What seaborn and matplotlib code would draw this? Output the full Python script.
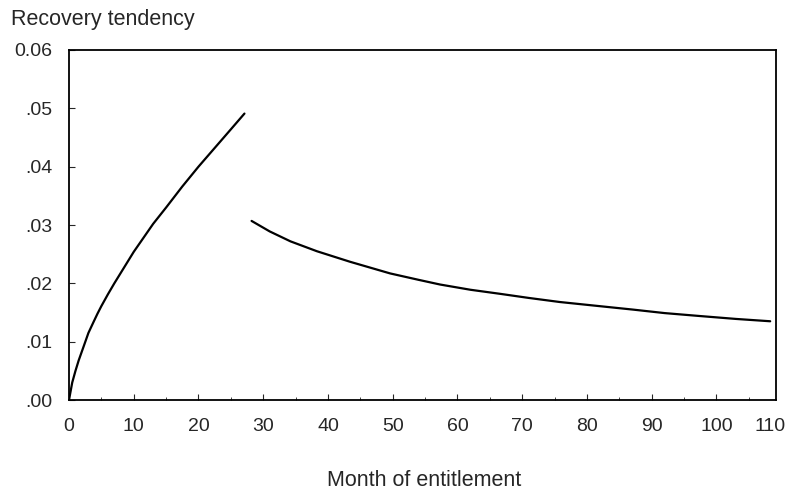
import matplotlib
matplotlib.use('Agg')
import matplotlib.pyplot as plt
import seaborn as sns
import pandas as pd

# 読み取った値（前半：増加部分）
month_up = [0, 0.5, 1, 1.5, 2.3, 3, 3.8, 4.4, 5, 6, 7, 8.5, 10, 11.5, 13, 15,
            17.5, 20, 22.5, 25, 27.1]
tend_up = [0.0, 0.0030, 0.0050, 0.0068, 0.0093, 0.0115, 0.0134, 0.0148,
           0.0161, 0.0181, 0.0200, 0.0227, 0.0254, 0.0278, 0.0302, 0.0330,
           0.0366, 0.0400, 0.0432, 0.0464, 0.0491]

# 後半：減少部分
month_down = [28.2, 31, 34.2, 38.3, 43.4, 49.6, 54, 57.3, 62, 66.6, 71,
              75.8, 81, 87.1, 92, 97.4, 103, 108.3]
tend_down = [0.0307, 0.0289, 0.0272, 0.0255, 0.0237, 0.0217, 0.0206,
             0.0198, 0.0189, 0.0182, 0.0175, 0.0168, 0.0162, 0.0155,
             0.0149, 0.0144, 0.0139, 0.0135]

x_ticks = [0, 10, 20, 30, 40, 50, 60, 70, 80, 90, 100]
x_labels = ['0', '10', '20', '30', '40', '50', '60', '70', '80', '90', '100']
y_ticks = [0.0, 0.01, 0.02, 0.03, 0.04, 0.05, 0.06]
y_labels = ['.00', '.01', '.02', '.03', '.04', '.05', '0.06']

sns.set_style('ticks')
plt.rcParams['font.family'] = ['Liberation Sans', 'DejaVu Sans']

df_up = pd.DataFrame({'month': month_up, 'tend': tend_up})
df_down = pd.DataFrame({'month': month_down, 'tend': tend_down})

fig = plt.figure(figsize=(8.06, 4.91), dpi=100)
ax = fig.add_axes([0.0856, 0.1853, 0.8772, 0.7129])

sns.lineplot(data=df_up, x='month', y='tend', color='black', lw=1.6, ax=ax)
sns.lineplot(data=df_down, x='month', y='tend', color='black', lw=1.6, ax=ax)

ax.set_xlim(0, 109.2)
ax.set_ylim(0, 0.06)
# 110のラベルは枠の右端付近に置かれている
ax.set_xticks(x_ticks + [108.3])
ax.set_xticklabels(x_labels + ['110'], fontsize=14)
ax.set_xticks(range(5, 109, 10), minor=True)
ax.set_yticks(y_ticks)
ax.set_yticklabels(y_labels, fontsize=14)
ax.tick_params(which='major', direction='in', length=4, width=0.8)
ax.tick_params(which='minor', direction='in', length=2, width=0.6)
ax.tick_params(axis='x', pad=13)
ax.tick_params(axis='y', pad=12)
ax.get_xticklines()[-2].set_visible(False)
ax.get_xticklines()[-1].set_visible(False)

for s in ax.spines.values():
    s.set_visible(True)
    s.set_linewidth(1.3)
    s.set_color('black')

ax.set_xlabel('')
ax.set_ylabel('')
fig.text(0.4057, 0.0224, 'Month of entitlement', fontsize=15.5, ha='left', va='center')
fig.text(0.0136, 0.961, 'Recovery tendency', fontsize=15.5, ha='left', va='center')

plt.savefig('out.png', dpi=100)
